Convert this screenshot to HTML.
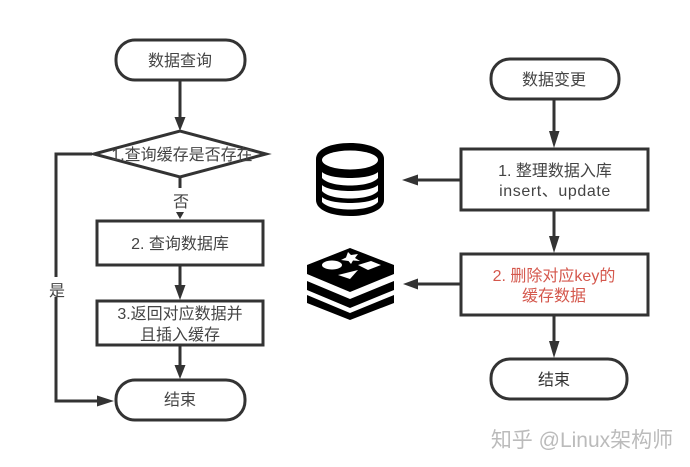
<!DOCTYPE html>
<html><head><meta charset="utf-8">
<style>
html,body{margin:0;padding:0;background:#fff;width:690px;height:467px;overflow:hidden}
svg{display:block;filter:blur(0.35px)}
text{font-family:"Liberation Sans","Noto Sans CJK SC",sans-serif;text-anchor:middle;font-size:16px;fill:#444}
.s{fill:#fff;stroke:#333;stroke-width:3}
.l{fill:none;stroke:#333;stroke-width:3}
.a{fill:#333}
</style></head><body>
<svg width="690" height="467" viewBox="0 0 690 467" xmlns="http://www.w3.org/2000/svg">
<!-- left connectors -->
<path class="l" d="M180 80V120M180 177V188M180 265V290M180 345V370M92 154H56V401H100"/>
<path class="a" d="M174.500 117H185.500L180 131ZM176 212H184L180 219ZM174.500 285H185.500L180 300ZM174.500 365H185.500L180 379ZM97 395.500V406.500L114 401Z"/>
<!-- left nodes -->
<rect class="s" x="116" y="40" width="129" height="40" rx="19"/>
<polygon class="s" points="94,154 180,131 266,154 180,177"/>
<rect class="s" x="97" y="221" width="166" height="44"/>
<rect class="s" x="97" y="301" width="166" height="44"/>
<rect class="s" x="116" y="380" width="129" height="40" rx="19"/>
<text x="180" y="66">数据查询</text>
<text x="182" y="160">1.查询缓存是否存在</text>
<rect x="170" y="190" width="20" height="20" fill="#fff"/>
<text x="181" y="207">否</text>
<text x="180" y="249">2. 查询数据库</text>
<text x="180" y="319">3.返回对应数据并</text>
<text x="180" y="340">且插入缓存</text>
<text x="180" y="405">结束</text>
<rect x="46" y="277" width="20" height="20" fill="#fff"/>
<text x="57" y="296">是</text>
<!-- right connectors -->
<path class="l" d="M554 99V135M554 210V240M554 315V345M461 180H412M461 284H412"/>
<path class="a" d="M549 131H559.500L554 148ZM549 236H559.500L554 253ZM549 341H559.500L554 358ZM402 180L418 174.500V185.500ZM403 284L418 278.500V289.500Z"/>
<!-- right nodes -->
<rect class="s" x="491" y="59" width="128" height="40" rx="19"/>
<rect class="s" x="461" y="149" width="187" height="61"/>
<rect class="s" x="461" y="254" width="187" height="61"/>
<rect class="s" x="491" y="359" width="136" height="40" rx="19"/>
<text x="554" y="85">数据变更</text>
<text x="555" y="176">1. 整理数据入库</text>
<text x="555" y="196" style="letter-spacing:.6px">insert、update</text>
<text x="554" y="281" style="fill:#d4574c">2. 删除对应key的</text>
<text x="554" y="301" style="fill:#d4574c">缓存数据</text>
<text x="554" y="385" style="fill:#333">结束</text>
<!-- database icon -->
<path d="M316 159C316 149 331 143 350 143C369 143 384 149 384 159V200C384 210 369 216 350 216C331 216 316 210 316 200Z" fill="#000"/>
<ellipse cx="350" cy="160" rx="28" ry="9.500" fill="#fff"/>
<path d="M322 172C330 180 370 180 378 172V178C370 188 330 188 322 178Z" fill="#fff"/>
<path d="M322 185C330 193 370 193 378 185V191C370 201 330 201 322 191Z" fill="#fff"/>
<path d="M322 197C330 205 370 205 378 197V202C370 212 330 212 322 202Z" fill="#fff"/>
<!-- redis icon -->
<path d="M307 265L350 248L394 265V274L350 292L307 274Z" fill="#000"/>
<path d="M307 281L350 299L394 281V290L350 308L307 290Z" fill="#000"/>
<path d="M307 295L350 313L394 295V303L350 320L307 303Z" fill="#000"/>
<ellipse cx="332" cy="265" rx="10" ry="4.500" fill="#fff"/>
<polygon points="348,252 351,255 358,254 355,258 360,261 353,260.500 351,264 348.500,261 341,260 346,257.500" fill="#fff"/>
<polygon points="358,265 371,261 381,265 368,270" fill="#fff"/>
<polygon points="338,275 358,270 350,279" fill="#fff"/>
<!-- watermark -->
<text x="582" y="447" style="font-size:21px;fill:#bbb;">知乎 @Linux架构师</text>
</svg>
</body></html>
